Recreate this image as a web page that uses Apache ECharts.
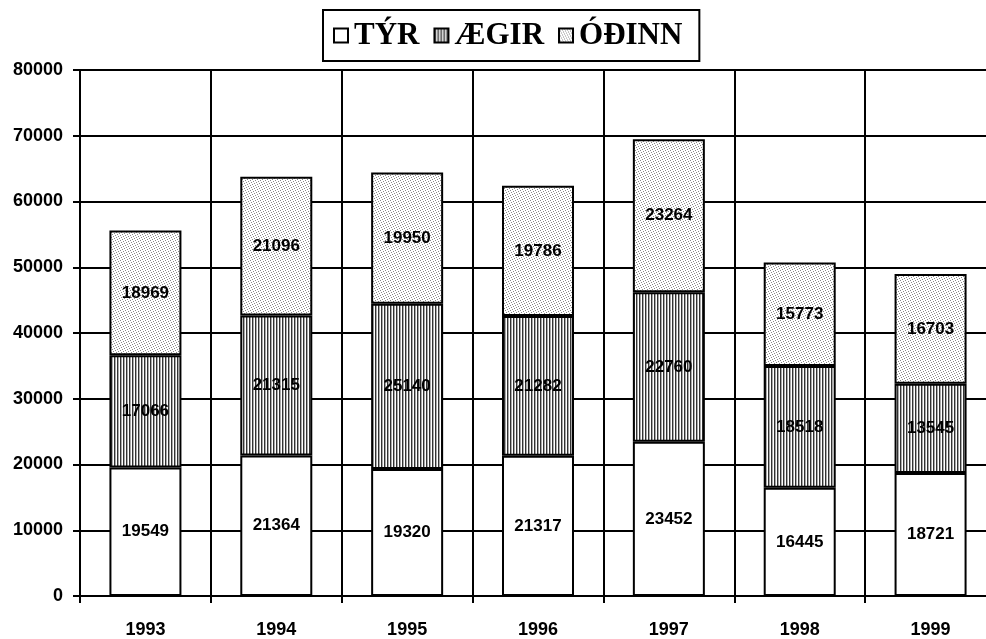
<!DOCTYPE html>
<html><head><meta charset="utf-8">
<script src="https://cdn.jsdelivr.net/npm/echarts@6/dist/echarts.min.js"></script>
<style>html,body{margin:0;padding:0;background:#fff;overflow:hidden}#c{width:1000px;height:639px}</style>
</head><body><div id="c"></div>
<script>
const categories = ['1993','1994','1995','1996','1997','1998','1999'];
const tyr   = [19549, 21364, 19320, 21317, 23452, 16445, 18721];
const aegir = [17066, 21315, 25140, 21282, 22760, 18518, 13545];
const odinn = [18969, 21096, 19950, 19786, 23264, 15773, 16703];
const seriesNames = ['TÝR', 'ÆGIR', 'ÓÐINN'];
const yTicks = {min: 0, max: 80000, interval: 10000};

function stripePattern() {
  const c = document.createElement('canvas'); c.width = 3; c.height = 3;
  const g = c.getContext('2d');
  g.fillStyle = '#fff'; g.fillRect(0,0,3,3);
  g.fillStyle = '#333'; g.fillRect(0,0,1,3);
  g.fillStyle = '#aaa'; g.fillRect(1,0,1,3);
  return c;
}
function dotPattern() {
  const c = document.createElement('canvas'); c.width = 5; c.height = 5;
  const g = c.getContext('2d');
  g.fillStyle = '#fff'; g.fillRect(0,0,5,5);
  g.fillStyle = '#888';
  for (let y = 0; y < 5; y++) for (let x = 0; x < 5; x++) if ((x + 2*y) % 5 === 0) g.fillRect(x,y,1,1);
  return c;
}
const fills = ['#ffffff', {image: stripePattern(), repeat: 'repeat'}, {image: dotPattern(), repeat: 'repeat'}];
const datas = [tyr, aegir, odinn];

const chart = echarts.init(document.getElementById('c'), null, {renderer: 'canvas'});
const labelFont = {fontFamily: 'Liberation Sans, Arial, sans-serif', fontWeight: 'bold', color: '#000'};
chart.setOption({
  animation: false,
  backgroundColor: '#fff',
  legend: {
    data: seriesNames,
    left: 323, top: 10,
    padding: [10, 17, 10, 10],
    borderColor: '#000', borderWidth: 2,
    itemWidth: 14, itemHeight: 14, itemGap: 14,
    icon: 'rect',
    textStyle: {fontFamily: 'Liberation Serif, Times New Roman, serif', fontWeight: 'bold', fontSize: 31, color: '#000', padding: [0,0,0,1]}
  },
  grid: {left: 80, top: 70, width: 916, height: 527, containLabel: false},
  xAxis: {
    type: 'category', data: categories, boundaryGap: true,
    axisLine: {lineStyle: {color: '#000', width: 2}},
    axisTick: {show: true, length: 7, lineStyle: {color: '#000', width: 2}},
    splitLine: {show: true, lineStyle: {color: '#000', width: 2}},
    axisLabel: Object.assign({}, labelFont, {fontSize: 18, margin: 25})
  },
  yAxis: {
    type: 'value', min: yTicks.min, max: yTicks.max, interval: yTicks.interval,
    axisLine: {show: true, lineStyle: {color: '#000', width: 2}},
    axisTick: {show: true, length: 7, lineStyle: {color: '#000', width: 2}},
    splitLine: {show: true, lineStyle: {color: '#000', width: 2}},
    axisLabel: Object.assign({}, labelFont, {fontSize: 18, margin: 17, formatter: v => String(v)})
  },
  series: seriesNames.map((n, i) => ({
    name: n, type: 'bar', stack: 'total', barWidth: 72,
    data: datas[i],
    itemStyle: {color: fills[i], borderColor: '#000', borderWidth: 2},
    label: Object.assign({show: true, position: 'inside', formatter: '{c}'}, labelFont, {fontSize: 17}),
    emphasis: {disabled: true}
  }))
});
</script></body></html>
